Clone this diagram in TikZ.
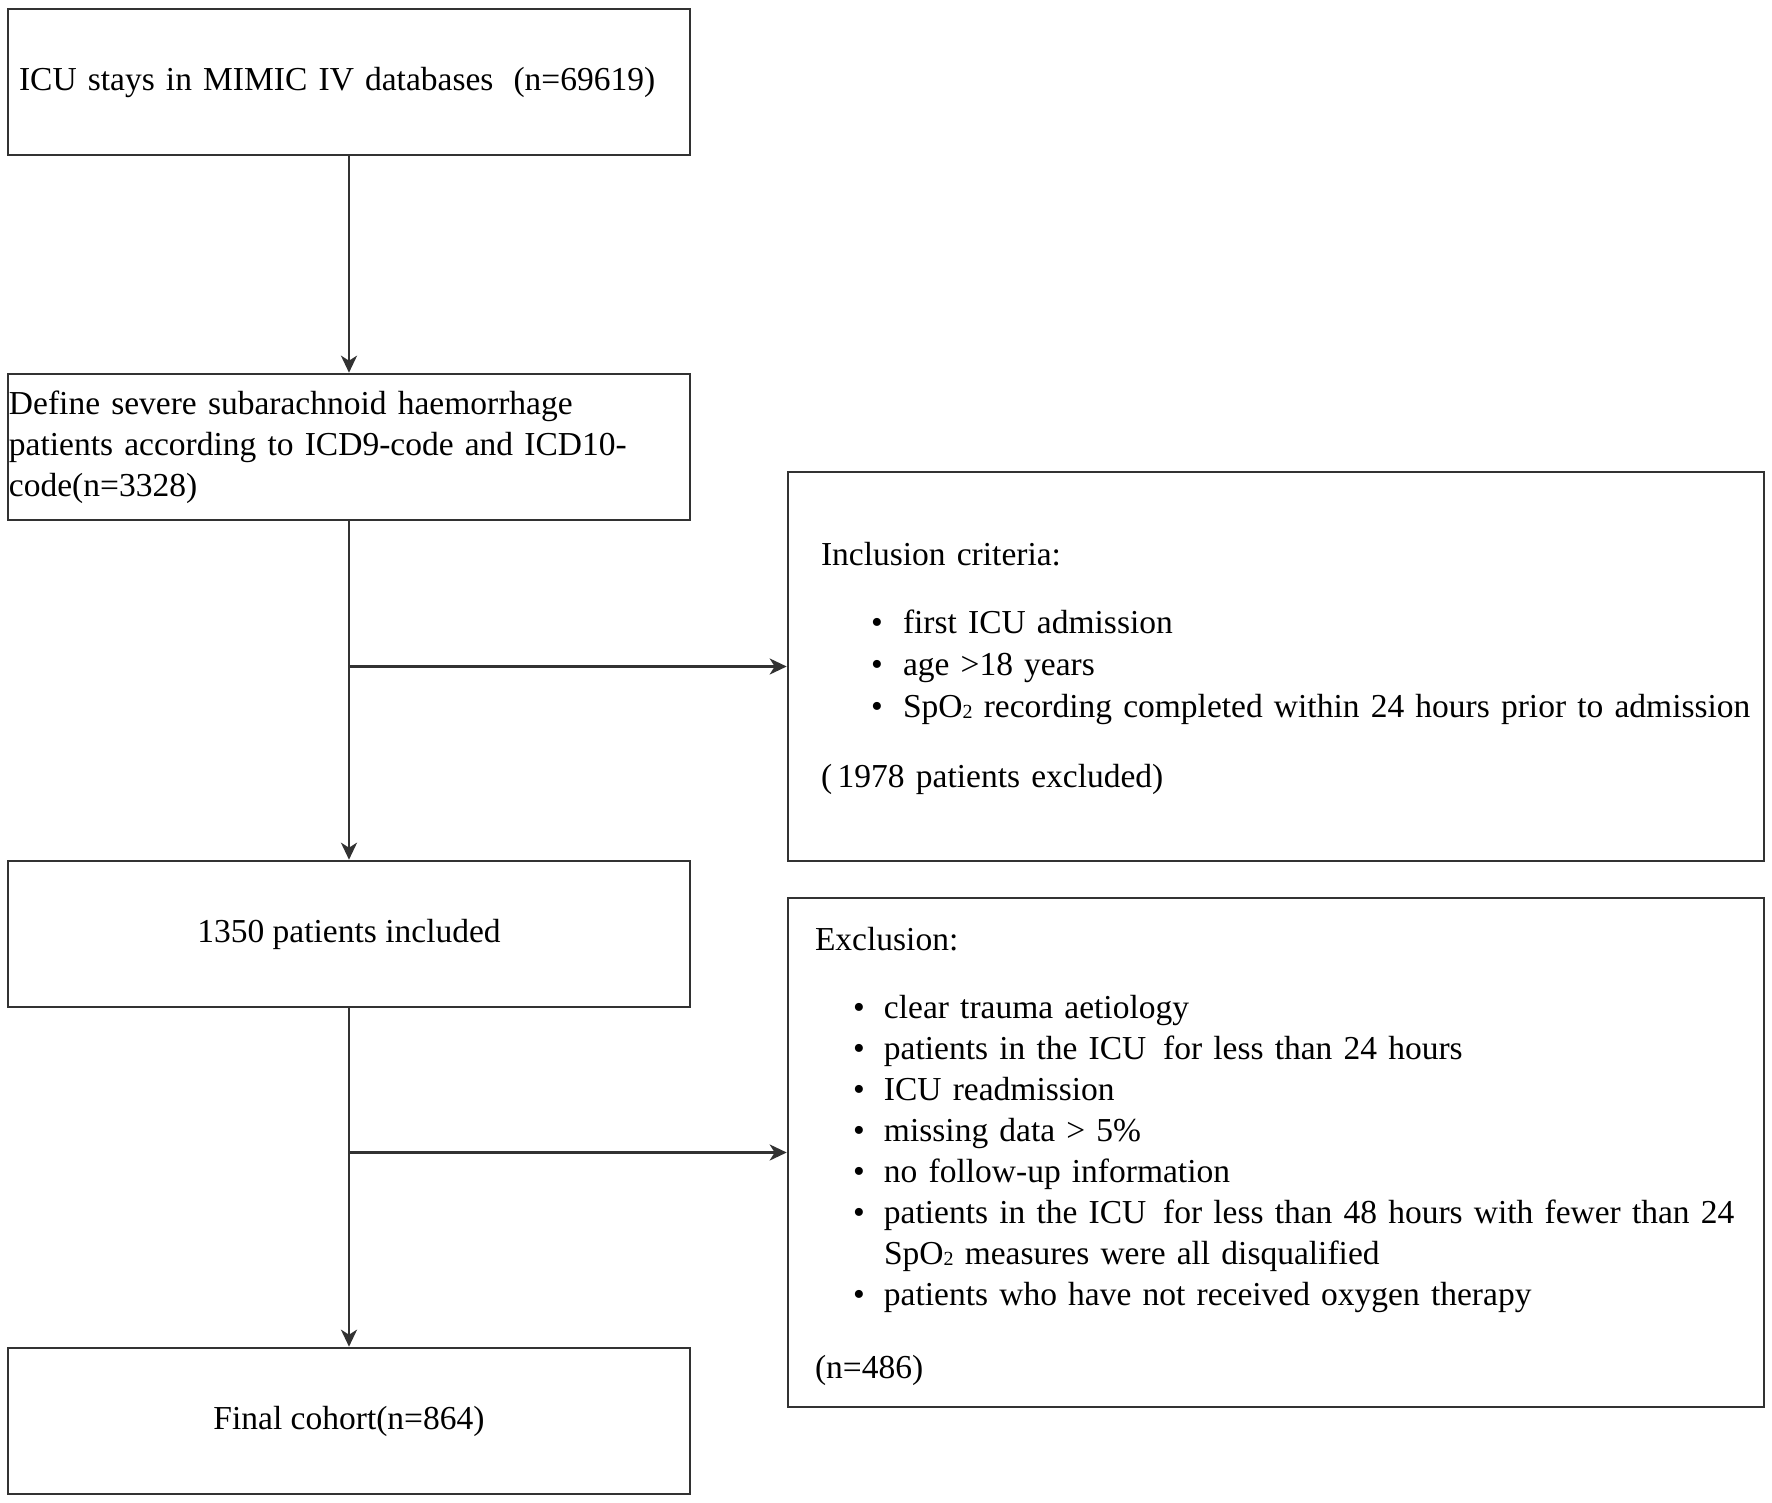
\documentclass[tikz,border=0pt]{standalone}
\usepackage{fontspec}
\setmainfont{Liberation Serif}
\usetikzlibrary{arrows.meta,calc}
\definecolor{linec}{RGB}{50,50,50}
\newcommand\fs{\fontsize{16.75pt}{20.5pt}\selectfont}
\newcommand\ibul[1]{\hspace*{25pt}\makebox[16pt][l]{\textbullet}#1}
\newcommand\ebul[1]{\hspace*{19pt}\makebox[15.5pt][l]{\textbullet}#1}
\newcommand\subtwo{\raisebox{-0.3pt}{\fontsize{10pt}{10pt}\selectfont 2}}
\begin{document}
\begin{tikzpicture}[x=0.5pt,y=-0.5pt,
  box/.style={draw=linec, line width=1.3pt, minimum width=341pt, minimum height=73pt, inner sep=0pt, font=\fs},
  frame/.style={draw=linec, line width=1.3pt, minimum width=488pt, inner sep=0pt},
  txt/.style={inner sep=0pt, font=\fs, align=left},
  arr/.style={draw=linec, line width=1.3pt, -{Stealth[length=8.5pt,width=8pt,inset=2.5pt]}}
]
\useasboundingbox (0,0) rectangle (1772,1503);
\fill[white] (0,0) rectangle (1772,1503);

\node[box, text width=330pt, align=left] (b1) at (349,82) {ICU stays in MIMIC IV databases\hspace{0.6em}(n=69619)};
\node[box, text width=340pt, align=left] (b2) at (349,447) {Define severe subarachnoid haemorrhage\\patients according to ICD9-code and ICD10-\\code(n=3328)};
\node[box] (b3) at (349,934) {1350 patients included};
\node[box] (b4) at (349,1421) {Final cohort(n=864)};

\node[frame, minimum height=194.5pt] (incl) at (1276,666.5) {};
\node[txt, text width=470pt, xshift=7.5pt, yshift=-1pt] (inclt) at (incl.center) {Inclusion criteria:\\[13.5pt]
\ibul{first ICU admission}\\[0.5pt]
\ibul{age >18 years}\\[0.5pt]
\ibul{SpO\subtwo\ recording completed within 24 hours prior to admission}\\[14.5pt]
(\,1978 patients excluded)};

\node[frame, minimum height=254.5pt] (excl) at (1276,1152.5) {};
\node[txt, text width=461pt, yshift=-2pt] (exclt) at (excl.center) {Exclusion:\\[13.5pt]
\ebul{clear trauma aetiology}\\
\ebul{patients in the ICU\, for less than 24 hours}\\
\ebul{ICU readmission}\\
\ebul{missing data > 5\%}\\
\ebul{no follow-up information}\\
\ebul{patients in the ICU\, for less than 48 hours with fewer than 24}\\
\hspace*{34.5pt}SpO\subtwo\ measures were all disqualified\\
\ebul{patients who have not received oxygen therapy}\\[16pt]
(n=486)};

\draw[arr] (b1) -- (b2);
\draw[arr] (b2) -- (b3);
\draw[arr] (b3) -- (b4);
\draw[arr] (b2.south |- incl.west) -- (incl.west);
\draw[arr] (b3.south |- excl.west) -- (excl.west);
\end{tikzpicture}
\end{document}
